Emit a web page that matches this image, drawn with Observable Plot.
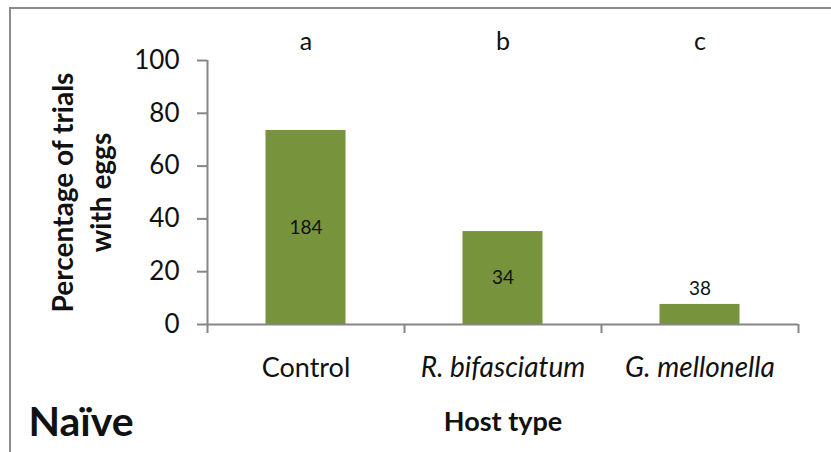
<!DOCTYPE html>
<html>
<head>
<meta charset="utf-8">
<script src="https://cdn.jsdelivr.net/npm/d3@7"></script>
<script src="https://cdn.jsdelivr.net/npm/@observablehq/plot@0.6"></script>
<style>
  html, body { margin: 0; padding: 0; background: #fff; overflow: hidden; }
  #wrap { position: relative; width: 831px; height: 452px; overflow: hidden; }
  #frame { position: absolute; left: 9px; top: 7px; width: 900px; height: 500px; border: 2px solid #8c8c8c; box-sizing: border-box; pointer-events: none; }
  #chart { position: absolute; left: 0; top: 0; }
  svg { overflow: visible; }
</style>
</head>
<body>
<div id="wrap"><div id="frame"></div><div id="chart"></div></div>
<script>
const categories = ["Control", "R. bifasciatum", "G. mellonella"];
const italicCategory = [false, true, true];
const percentages = [73.5, 35.2, 7.6];
const sampleSizes = ["184", "34", "38"];
const letters = ["a", "b", "c"];
const yTicks = [0, 20, 40, 60, 80, 100];

const data = categories.map((c, i) => ({
  cat: c, i, italic: italicCategory[i], pct: percentages[i], n: sampleSizes[i], letter: letters[i]
}));

const font = "Lato, 'Open Sans', sans-serif";
const green = "#77933C";
const axisGray = "#868686";

const plot = Plot.plot({
  width: 831,
  height: 452,
  marginLeft: 207,
  marginRight: 33,
  marginTop: 60,
  marginBottom: 128,
  style: { fontFamily: font, background: "transparent", overflow: "visible" },
  x: { type: "linear", domain: [0, categories.length], axis: null },
  y: { domain: [0, 100], axis: null },
  marks: [
    Plot.rectY(data, { x1: d => d.i, x2: d => d.i + 1, y1: 0, y2: "pct", fill: green, insetLeft: 58.5, insetRight: 58.5 }),
    Plot.ruleX([0], { stroke: axisGray, strokeWidth: 2 }),
    Plot.ruleY([0], { stroke: axisGray, strokeWidth: 2 }),
    Plot.axisY({ ticks: yTicks, tickSize: 10, tickPadding: 18, stroke: axisGray, strokeWidth: 2, fontSize: 26, fill: "#111", label: null, tickFormat: d3.format("d") }),
    Plot.axisX({ ticks: d3.range(categories.length + 1), tickSize: 9, stroke: axisGray, strokeWidth: 2, tickFormat: () => "", label: null }),
    // category labels
    Plot.text(data.filter(d => !d.italic), { x: d => d.i + 0.5, y: 0, text: "cat", dy: 44, fontSize: 27, fill: "#111" }),
    Plot.text(data.filter(d => d.italic), { x: d => d.i + 0.5, y: 0, text: "cat", dy: 44, fontSize: 28, fontStyle: "italic", fill: "#111" }),
    // significance letters
    Plot.text(data, { x: d => d.i + 0.5, y: 100, text: "letter", dy: -19, fontSize: 25, fill: "#111" }),
    // sample sizes
    Plot.text(data.filter(d => d.pct > 20), { x: d => d.i + 0.5, y: d => d.pct / 2, text: "n", fontSize: 19, fill: "#111" }),
    Plot.text(data.filter(d => d.pct <= 20), { x: d => d.i + 0.5, y: "pct", text: "n", dy: -16, fontSize: 19, fill: "#111" }),
    // y axis label
    Plot.text(["Percentage of trials\nwith eggs"], { x: 0, y: 50, dx: -128, rotate: -90, textAnchor: "middle", lineAnchor: "middle", fontSize: 28, fontWeight: "bold", lineHeight: 1.36, fill: "#111" }),
    // x axis label
    Plot.text(["Host type"], { x: categories.length / 2, y: 0, dy: 98, textAnchor: "middle", lineAnchor: "middle", fontSize: 27, fontWeight: "bold", fill: "#111" }),
    // panel label
    Plot.text(["Naïve"], { x: 0, y: 0, dx: -179, dy: 98, textAnchor: "start", lineAnchor: "middle", fontSize: 41, fontWeight: "bold", fill: "#111" })
  ]
});
document.getElementById("chart").appendChild(plot);
</script>
</body>
</html>
